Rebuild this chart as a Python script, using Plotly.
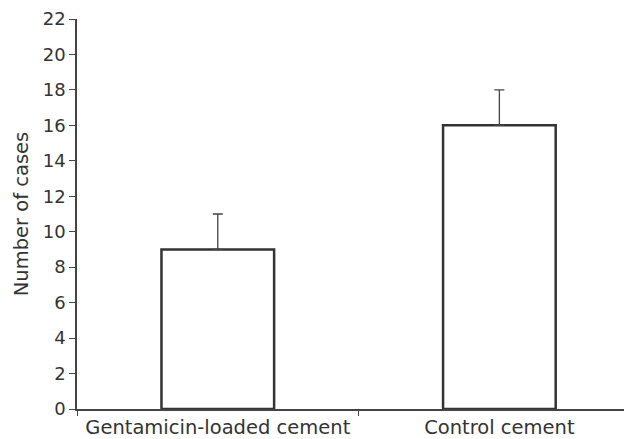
import plotly.graph_objects as go

categories = ["Gentamicin-loaded cement", "Control cement"]
cases = [9, 16]
error_up = [2, 2]
y_ticks = list(range(0, 23, 2))

FONT = "DejaVu Sans"
INK = "#333333"

# page body has an 8px default margin, so the figure is sized to fit inside it
fig = go.Figure()
fig.add_trace(go.Bar(
    x=categories,
    y=cases,
    width=0.4,
    marker=dict(color="white", line=dict(color="#333333", width=2.5)),
    error_y=dict(type="data", symmetric=False, array=error_up,
                 arrayminus=[0, 0], color="#444444", thickness=1.3, width=5),
    showlegend=False,
))

fig.update_layout(
    width=624, height=431,
    margin=dict(l=69, r=0, t=11, b=30),
    paper_bgcolor="white", plot_bgcolor="white",
    font=dict(family=FONT, size=19.5, color=INK),
    xaxis=dict(
        type="category",
        range=[-0.5, 1.471],
        showline=True, linecolor="#444444", linewidth=1.5,
        ticks="outside", tickson="boundaries", ticklen=5, tickcolor="#444444",
        showgrid=False, zeroline=False,
        tickfont=dict(family=FONT, size=19.5, color=INK),
        ticklabeloverflow="allow",
        automargin=False,
    ),
    yaxis=dict(
        range=[0, 22],
        tickvals=y_ticks,
        showline=True, linecolor="#444444", linewidth=1.5,
        ticks="outside", ticklen=6, tickcolor="#444444",
        showgrid=False, zeroline=False,
        tickfont=dict(family=FONT, size=18, color=INK),
        ticklabeloverflow="allow",
        title=dict(text="Number of cases", font=dict(family=FONT, size=19.5, color=INK), standoff=9),
        automargin=False,
    ),
)

fig.write_html("out.html")
